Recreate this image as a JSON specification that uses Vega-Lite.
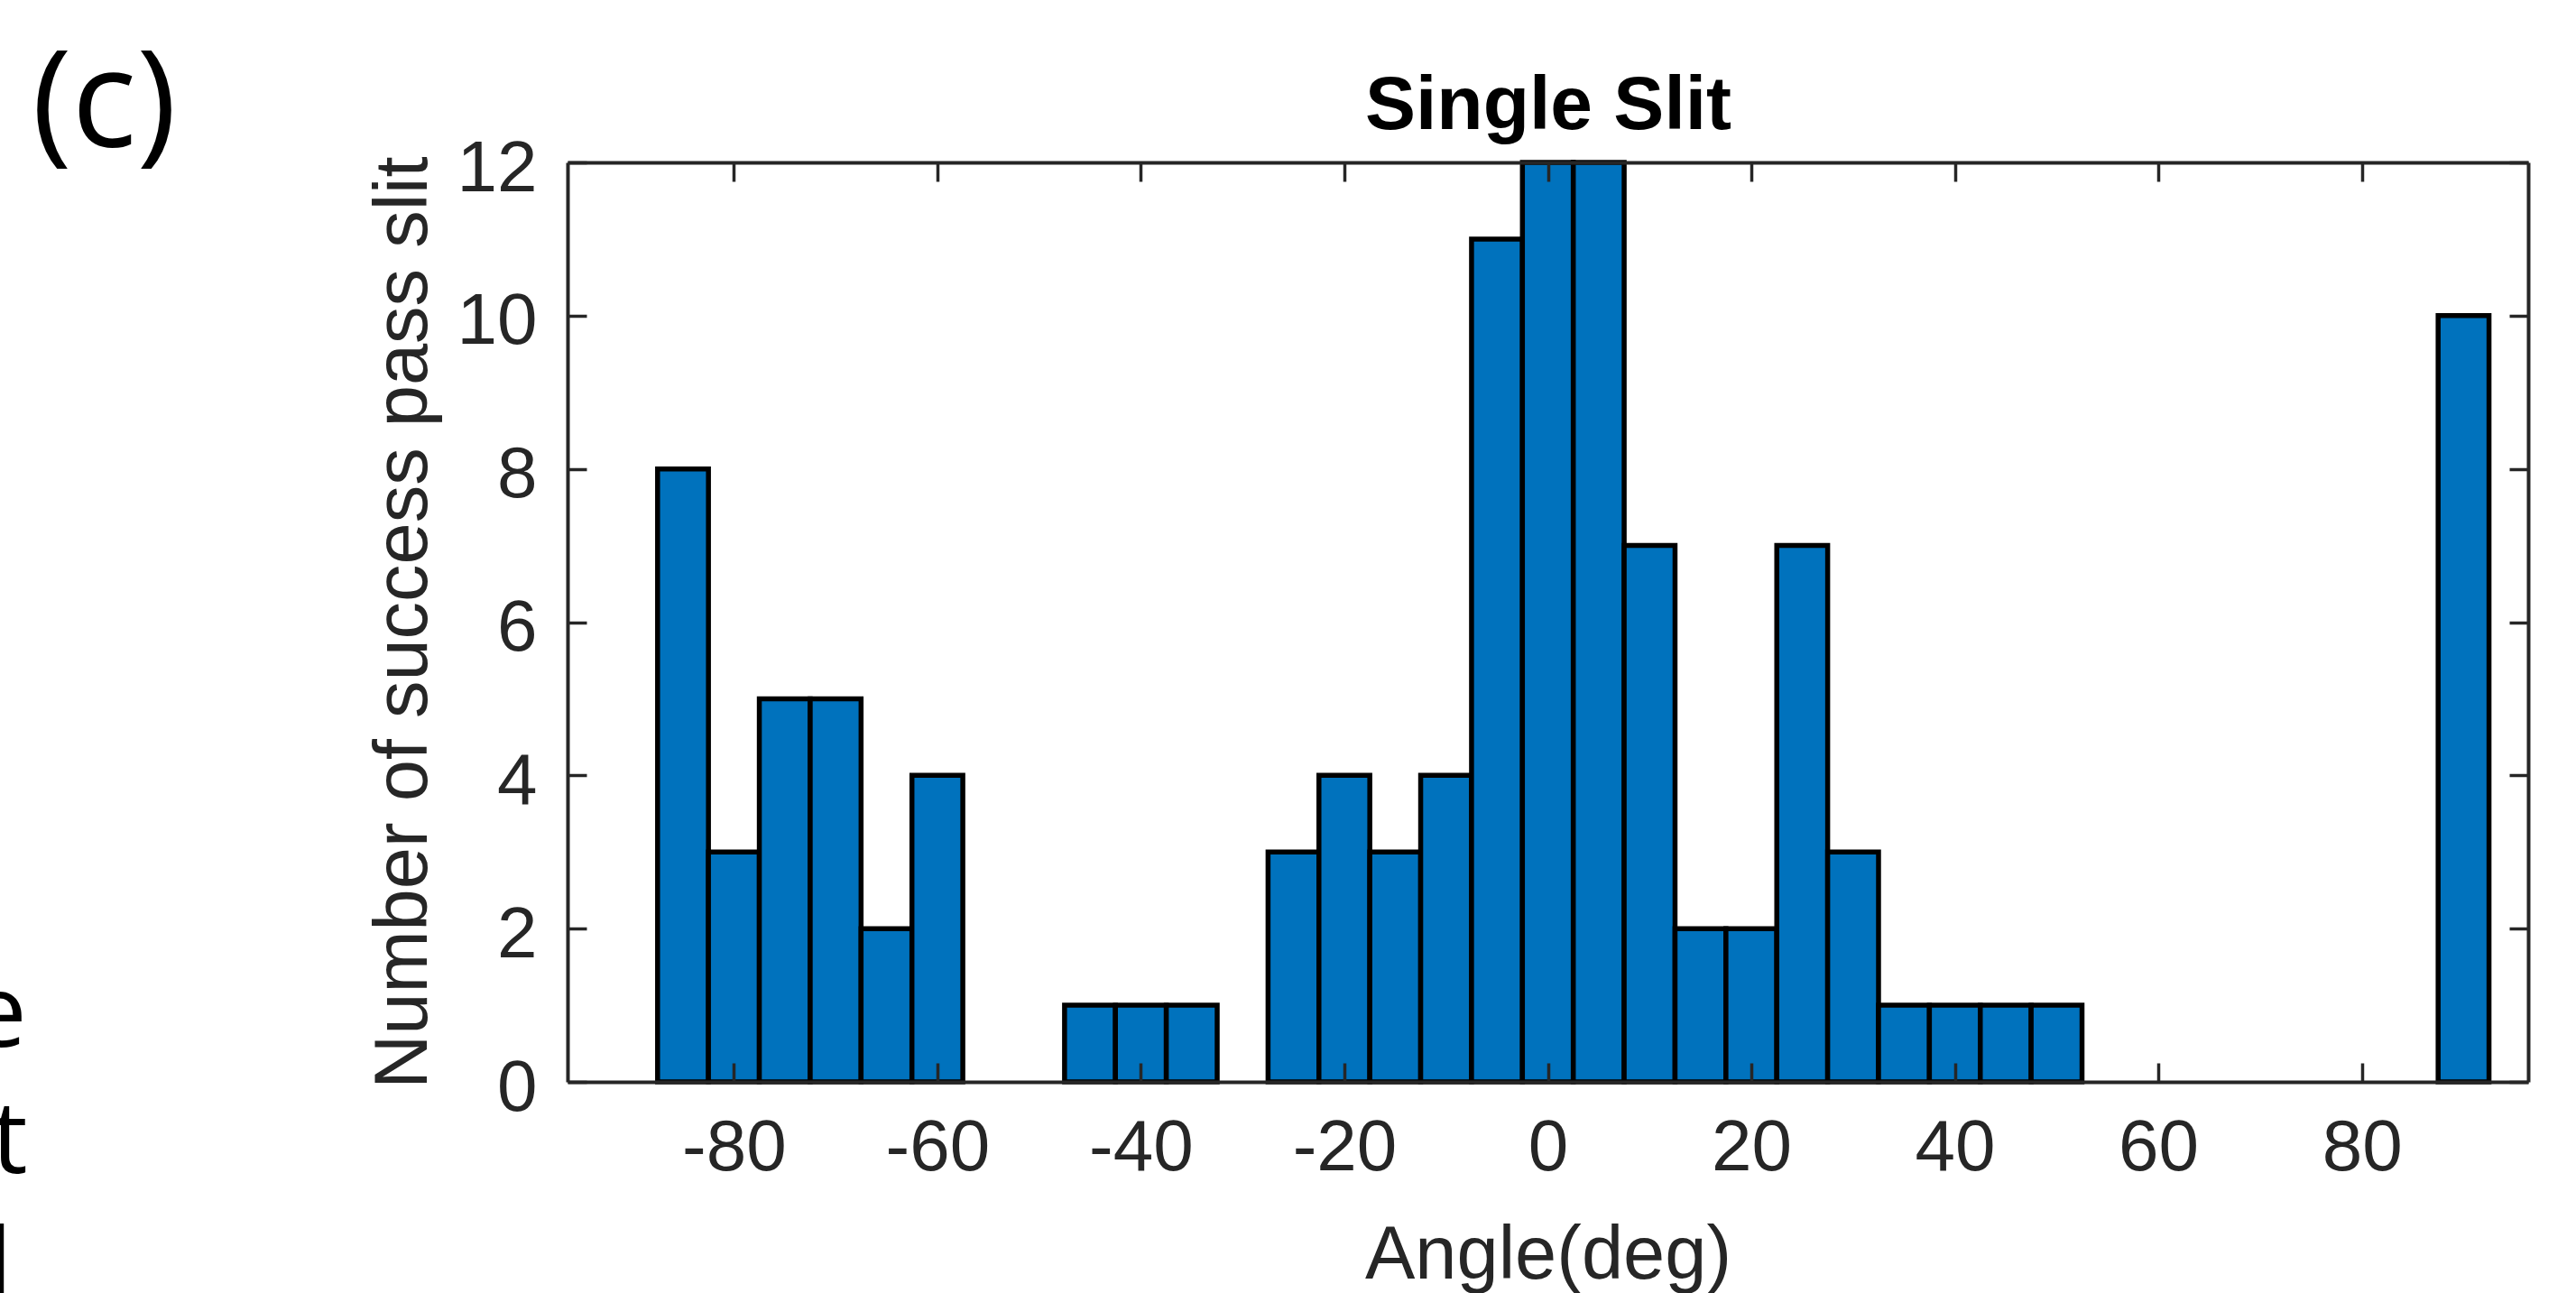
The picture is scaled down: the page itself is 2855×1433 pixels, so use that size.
{
  "$schema": "https://vega.github.io/schema/vega-lite/v6.json",
  "width": 2173,
  "height": 1019,
  "autosize": {"type": "none"},
  "padding": {"left": 629, "top": 180, "right": 53, "bottom": 234},
  "background": "white",
  "config": {"view": {"stroke": null}},
  "datasets": {
    "hist": [
      {"start": -87.5, "end": -82.5, "count": 8},
      {"start": -82.5, "end": -77.5, "count": 3},
      {"start": -77.5, "end": -72.5, "count": 5},
      {"start": -72.5, "end": -67.5, "count": 5},
      {"start": -67.5, "end": -62.5, "count": 2},
      {"start": -62.5, "end": -57.5, "count": 4},
      {"start": -47.5, "end": -42.5, "count": 1},
      {"start": -42.5, "end": -37.5, "count": 1},
      {"start": -37.5, "end": -32.5, "count": 1},
      {"start": -27.5, "end": -22.5, "count": 3},
      {"start": -22.5, "end": -17.5, "count": 4},
      {"start": -17.5, "end": -12.5, "count": 3},
      {"start": -12.5, "end": -7.5, "count": 4},
      {"start": -7.5, "end": -2.5, "count": 11},
      {"start": -2.5, "end": 2.5, "count": 12},
      {"start": 2.5, "end": 7.5, "count": 12},
      {"start": 7.5, "end": 12.5, "count": 7},
      {"start": 12.5, "end": 17.5, "count": 2},
      {"start": 17.5, "end": 22.5, "count": 2},
      {"start": 22.5, "end": 27.5, "count": 7},
      {"start": 27.5, "end": 32.5, "count": 3},
      {"start": 32.5, "end": 37.5, "count": 1},
      {"start": 37.5, "end": 42.5, "count": 1},
      {"start": 42.5, "end": 47.5, "count": 1},
      {"start": 47.5, "end": 52.5, "count": 1},
      {"start": 87.5, "end": 92.5, "count": 10}
    ],
    "notes": [
      {"label": "(c)", "x": -149.0, "y": 12.2, "kind": "panel"},
      {"label": "e", "x": -149.5, "y": 0.46, "kind": "frag"},
      {"label": "t", "x": -149.4, "y": -1.19, "kind": "frag"},
      {"label": "l", "x": -150.9, "y": -2.85, "kind": "frag"}
    ]
  },
  "layer": [
    {
      "data": {"name": "hist"},
      "mark": {"type": "rect", "fill": "#0072BD", "stroke": "#000000", "strokeWidth": 5.5},
      "encoding": {
        "x": {
          "field": "start", "type": "quantitative",
          "scale": {"domain": [-96.35, 96.35], "nice": false, "zero": false},
          "axis": {
            "orient": "bottom", "values": [-80, -60, -40, -20, 0, 20, 40, 60, 80], "labelExpr": "datum.value + ''",
            "title": "Angle(deg)", "titleFont": "Liberation Sans", "titleFontSize": 83, "titleFontWeight": "normal", "titleColor": "#262626", "titlePadding": 38,
            "labelFont": "Liberation Sans", "labelFontSize": 80, "labelColor": "#262626", "labelPadding": 55, "labelFlush": false,
            "tickSize": -21, "tickWidth": 3.5, "tickColor": "#262626",
            "domainColor": "#262626", "domainWidth": 4, "grid": false, "zindex": 1
          }
        },
        "x2": {"field": "end"},
        "y": {
          "field": "count", "type": "quantitative",
          "scale": {"domain": [0, 12], "nice": false},
          "axis": {
            "orient": "left", "values": [0, 2, 4, 6, 8, 10, 12], "labelExpr": "datum.value + ''",
            "title": "Number of success pass slit", "titleFont": "Liberation Sans", "titleFontSize": 83, "titleFontWeight": "normal", "titleColor": "#262626", "titlePadding": 17,
            "labelFont": "Liberation Sans", "labelFontSize": 80, "labelColor": "#262626", "labelPadding": 55, "labelOffset": 7, "labelFlush": false,
            "tickSize": -21, "tickWidth": 3.5, "tickColor": "#262626",
            "domainColor": "#262626", "domainWidth": 4, "grid": false, "zindex": 1
          }
        },
        "y2": {"datum": 0}
      }
    },
    {
      "data": {"name": "hist"},
      "mark": {"type": "rect", "opacity": 0},
      "encoding": {
        "x": {
          "field": "start", "type": "quantitative",
          "axis": {
            "orient": "top", "values": [-80, -60, -40, -20, 0, 20, 40, 60, 80], "labels": false,
            "title": "Single Slit", "titleFont": "Liberation Sans", "titleFontSize": 84, "titleFontWeight": "bold", "titleColor": "#000000", "titlePadding": 18,
            "tickSize": -21, "tickWidth": 3.5, "tickColor": "#262626",
            "domainColor": "#262626", "domainWidth": 4, "grid": false, "zindex": 1
          }
        },
        "x2": {"field": "end"},
        "y": {
          "field": "count", "type": "quantitative",
          "axis": {
            "orient": "right", "values": [0, 2, 4, 6, 8, 10, 12], "title": null, "labels": false,
            "tickSize": -21, "tickWidth": 3.5, "tickColor": "#262626",
            "domainColor": "#262626", "domainWidth": 4, "grid": false, "zindex": 1
          }
        },
        "y2": {"datum": 0}
      }
    },
    {
      "data": {"name": "notes"},
      "transform": [{"filter": "datum.kind === 'panel'"}],
      "mark": {"type": "text", "font": "Open Sans", "fontSize": 150, "align": "left", "baseline": "alphabetic", "color": "#000000"},
      "encoding": {
        "x": {"field": "x", "type": "quantitative", "axis": null},
        "y": {"field": "y", "type": "quantitative", "axis": null},
        "text": {"field": "label"}
      }
    },
    {
      "data": {"name": "notes"},
      "transform": [{"filter": "datum.kind === 'frag'"}],
      "mark": {"type": "text", "font": "Open Sans", "fontSize": 112, "align": "right", "baseline": "alphabetic", "color": "#000000"},
      "encoding": {
        "x": {"field": "x", "type": "quantitative", "axis": null},
        "y": {"field": "y", "type": "quantitative", "axis": null},
        "text": {"field": "label"}
      }
    }
  ],
  "resolve": {"axis": {"x": "independent", "y": "independent"}}
}
